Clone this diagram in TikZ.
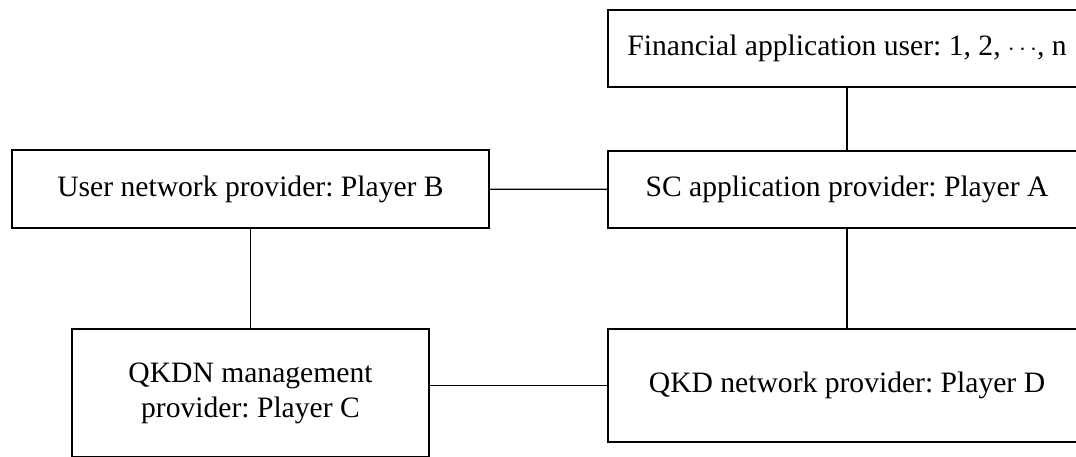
\documentclass[tikz,border=0pt]{standalone}
\usepackage{fontspec}
\setmainfont{Liberation Serif}
\frenchspacing
\tikzset{
  box/.style={draw, line width=1.4pt, inner sep=0pt, align=center, font=\fontsize{29.6}{35}\selectfont},
  link/.style={line width=1.4pt}
}
\begin{document}
\begin{tikzpicture}[x=1pt,y=-1pt]
\useasboundingbox (0,0) rectangle (1076,457);
\clip (0,0) rectangle (1076,457);
\node[box, minimum width=478pt, minimum height=77pt] (F) at (847,48.5) {Financial application user: 1, 2, \(\cdots\), n};
\node[box, minimum width=478pt, minimum height=77pt] (A) at (847,189.5) {SC application provider: Player A};
\node[box, minimum width=477pt, minimum height=78pt] (B) at (250.5,189) {User network provider: Player B};
\node[box, minimum width=357pt, minimum height=128pt] (C) at (250.5,393) {QKDN management\\provider: Player C};
\node[box, minimum width=478pt, minimum height=113pt] (D) at (847,385.5) {QKD network provider: Player D};
\draw[link] (F) -- (A);
\draw[link] (B) -- (A);
\draw[link] (B) -- (C);
\draw[link] (A) -- (D);
\draw[link] (D.west) -- (D.west -| C.east);
\end{tikzpicture}
\end{document}
